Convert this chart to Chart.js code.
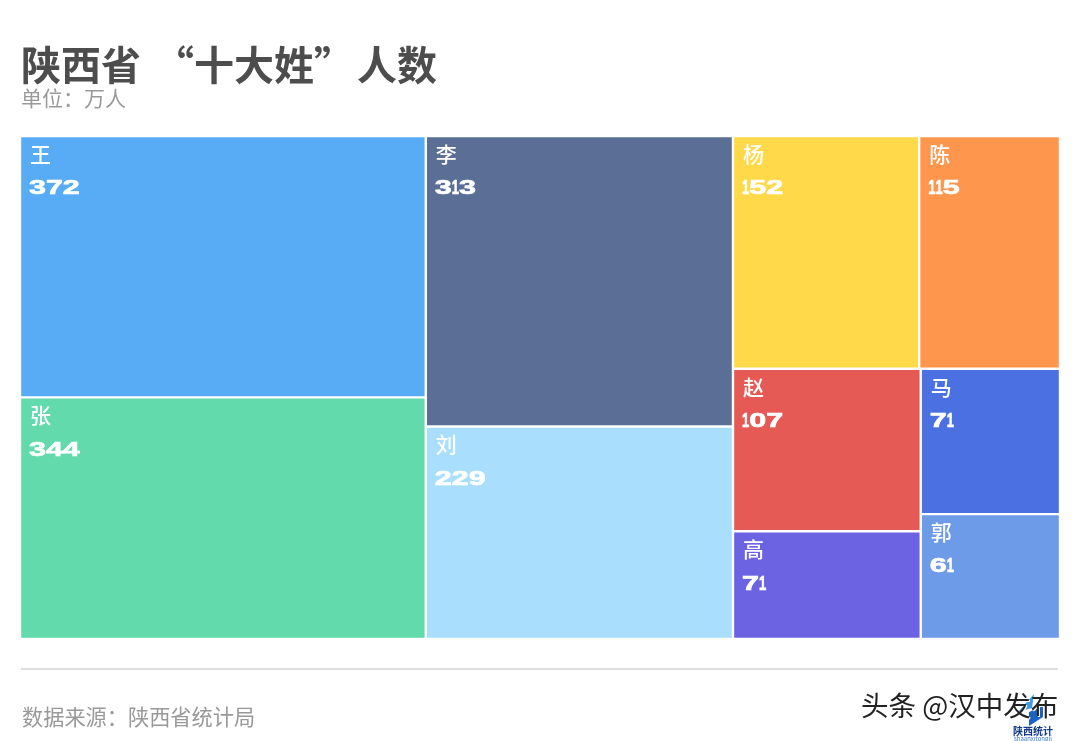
<!DOCTYPE html>
<html>
<head>
<meta charset="utf-8">
<title>陕西省“十大姓”人数</title>
<script src="https://cdn.jsdelivr.net/npm/chart.js@4/dist/chart.umd.js"></script>
<style>
    html, body { margin: 0; padding: 0; background: #fff; }
    body { width: 1080px; height: 741px; position: relative; overflow: hidden; font-family: "Noto Sans CJK SC", sans-serif; }
    #chart { position: absolute; left: 0; top: 0; }
    .t { position: absolute; white-space: pre; line-height: 1; }
    #title { left: 21px; top: 43px; font-size: 40px; font-weight: 700; color: #4d4d4d; word-spacing: 4px; }
    #title span { margin-left: 3px; }
    #unit { left: 21px; top: 87px; font-size: 21px; color: #9a9a9a; }
    #rule { position: absolute; left: 21px; top: 668px; width: 1037px; height: 2px; background: #dedede; }
    #source { left: 22px; top: 705px; font-size: 21.2px; color: #999; }
    #mark { left: 861px; top: 691px; font-size: 27.5px; color: #222; text-shadow: 1px 1px 0 #fff; }
    #logo { position: absolute; left: 1012px; top: 690px; }
    #logo1 { left: 1013px; top: 726px; font-size: 10px; font-weight: 700; color: #123a8c; }
    #logo2 { left: 1014px; top: 736px; font-size: 6px; color: #3a78c8; }
</style>
</head>
<body>
<canvas id="chart" width="1080" height="741"></canvas>
<div class="t" id="title">陕西省 “十大姓”<span>人数</span></div>
<div class="t" id="unit">单位：万人</div>
<div id="rule"></div>
<div class="t" id="source">数据来源：陕西省统计局</div>
<svg id="logo" width="34" height="36">
    <polygon points="6,22 22,4 20,18" fill="#3f9be8"/>
    <polygon points="17,36 17,22 31,16 31,27" fill="#1c62c4"/>
</svg>
<div class="t" id="logo1">陕西统计</div>
<div class="t" id="logo2">shaanxitongji</div>
<div class="t" id="mark">头条 @汉中发布</div>

<script>
    var surnames = ['王', '张', '李', '刘', '杨', '陈', '赵', '马', '高', '郭'];
    var counts = [372, 344, 313, 229, 152, 115, 107, 71, 71, 61];
    var colors = ['#58ACF6', '#62DAAB', '#5B6E96', '#A9DFFC', '#FFD94A', '#FF964D', '#E65A56', '#4B70E2', '#6C63E2', '#6D9BE7'];

    // how the cells nest: 'h' splits across, 'v' splits down, numbers index the arrays above
    var nesting = ['h', ['v', 0, 1], ['v', 2, 3], ['v', ['h', 4, 5], ['h', ['v', 6, 8], ['v', 7, 9]]]];

    function total(node) {
        if (typeof node === 'number') return counts[node];
        var sum = 0;
        for (var i = 1; i < node.length; i++) sum += total(node[i]);
        return sum;
    }

    // every cell's area follows its count; x runs over the grand total, y over 0..1
    function slice(node, x0, x1, y0, y1, out) {
        if (typeof node === 'number') {
            out[node] = { x0: x0, x1: x1, y0: y0, y1: y1 };
            return;
        }
        var sum = total(node), at = node[0] === 'h' ? x0 : y0;
        for (var i = 1; i < node.length; i++) {
            var part = total(node[i]) / sum * (node[0] === 'h' ? x1 - x0 : y1 - y0);
            if (node[0] === 'h') slice(node[i], at, at + part, y0, y1, out);
            else slice(node[i], x0, x1, at, at + part, out);
            at += part;
        }
    }

    class TreemapController extends Chart.DatasetController {
        update(mode) {
            var meta = this._cachedMeta, cells = [];
            slice(nesting, 0, total(nesting), 0, 1, cells);
            for (var i = 0; i < meta.data.length; i++) {
                var c = cells[i];
                var left = meta.xScale.getPixelForValue(c.x0), right = meta.xScale.getPixelForValue(c.x1);
                var top = meta.yScale.getPixelForValue(c.y0), bottom = meta.yScale.getPixelForValue(c.y1);
                this.updateElement(meta.data[i], i, {
                    x: (left + right) / 2,
                    y: top,
                    base: bottom,
                    width: right - left,
                    height: bottom - top,
                    horizontal: false,
                    borderSkipped: {},
                    enableBorderRadius: false,
                    inflateAmount: 0,
                    options: this.resolveDataElementOptions(i, mode)
                }, mode);
            }
        }
    }
    TreemapController.id = 'treemap';
    TreemapController.defaults = { datasetElementType: false, dataElementType: 'bar' };
    Chart.register(TreemapController);

    // the number face in the picture is a wide square one, so stretch digits and pinch the 1s
    function drawNumber(ctx, text, x, y) {
        ctx.font = 'bold 21px "Liberation Sans"';
        ctx.strokeStyle = '#fff';
        ctx.lineWidth = 0.7;
        for (var i = 0; i < text.length; i++) {
            var squeeze = text[i] === '1' ? 0.62 : 1.45;
            var w = ctx.measureText(text[i]).width * squeeze;
            ctx.save();
            ctx.translate(x, y);
            ctx.scale(squeeze, 1);
            ctx.fillText(text[i], 0, 0);
            ctx.strokeText(text[i], 0, 0);
            ctx.restore();
            x += w;
        }
    }

    var cellLabels = {
        id: 'cellLabels',
        afterDatasetsDraw: function(chart) {
            var ctx = chart.ctx, cells = chart.getDatasetMeta(0).data;
            ctx.save();
            ctx.fillStyle = '#fff';
            ctx.textBaseline = 'middle';
            ctx.textAlign = 'left';
            cells.forEach(function(el, i) {
                var left = el.x - el.width / 2;
                ctx.font = '500 21px "Noto Sans CJK SC"';
                ctx.fillText(surnames[i], left + 10, el.y + 18);
                drawNumber(ctx, String(counts[i]), left + 9, el.y + 52.5);
            });
            ctx.restore();
        }
    };

    new Chart(document.getElementById('chart'), {
        type: 'treemap',
        data: {
            labels: surnames,
            datasets: [{
                data: counts,
                backgroundColor: colors,
                borderColor: '#fff',
                borderWidth: 1.2
            }]
        },
        options: {
            responsive: false,
            animation: false,
            layout: { padding: { left: 20, right: 20, top: 136, bottom: 102 } },
            plugins: { legend: { display: false }, tooltip: { enabled: false } },
            scales: {
                x: { type: 'linear', display: false, min: 0, max: total(nesting) },
                y: { type: 'linear', display: false, min: 0, max: 1, reverse: true }
            }
        },
        plugins: [cellLabels]
    });
</script>
</body>
</html>
